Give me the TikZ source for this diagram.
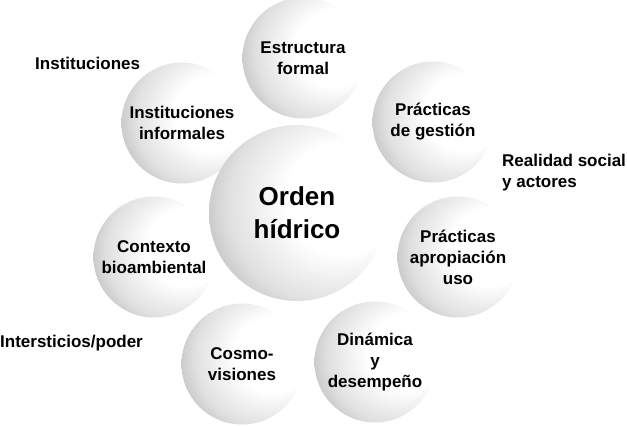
\documentclass[tikz,border=0pt]{standalone}
\usepackage{fontspec}
\setmainfont{Liberation Sans}
\usepackage{tikz}
\usetikzlibrary{positioning}

\pgfdeclareradialshading{sphere}{\pgfpoint{19bp}{6bp}}{%
  color(0bp)=(white);
  color(16bp)=(white);
  color(28bp)=(black!12);
  color(38bp)=(black!32);
  color(46bp)=(black!48);
  color(50bp)=(black!52)}

\begin{document}
\begin{tikzpicture}[%
            x=1pt,
            y=-1pt,
            ball/.style={%
            	circle,
            	shading=sphere,
            	minimum size=121pt,
            	inner sep=0pt,
            	align=center,
            	font=\fontsize{17}{21}\selectfont\bfseries
            },
            bigball/.style={%
            	ball,
            	minimum size=176pt,
            	font=\fontsize{26}{33}\selectfont\bfseries
            },
            label/.style={%
            	align=left,
            	inner sep=0pt,
            	font=\fontsize{17}{21}\selectfont\bfseries
            }
            ]
            \useasboundingbox (0,0) rectangle (627,426);

            \node[ball] (estructura) at (303,58)    {Estructura\\formal};
            \node[ball] (gestion) at (433,122)      {Prácticas\\de gestión};
            \node[ball] (apropiacion) at (458,257)  {Prácticas\\apropiación\\uso};
            \node[ball] (dinamica) at (375,362)     {Dinámica\\y\\desempeño};
            \node[ball] (cosmo) at (242,364)        {Cosmo-\\visiones};
            \node[ball] (contexto) at (154,257)     {Contexto\\bioambiental};
            \node[ball] (informales) at (182,123)   {Instituciones\\informales};
            \node[bigball] (orden) at (297,213)     {Orden\\hídrico};

            \node[label, anchor=west] (instituciones) at (35,63)  {Instituciones};
            \node[label, anchor=west] (realidad) at (502,173)     {Realidad social\\y actores};
            \node[label, anchor=west] (intersticios) at (0,343)   {Intersticios/poder};
\end{tikzpicture}
\end{document}
